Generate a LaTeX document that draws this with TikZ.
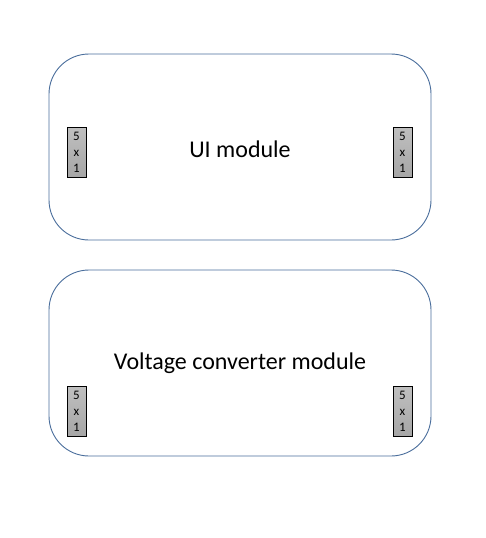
\documentclass[tikz,border=0pt]{standalone}
\usepackage{fontspec}
\setmainfont{Carlito}
\definecolor{modborder}{HTML}{4A6E9C}
\tikzset{
  module/.style={draw=modborder, line width=0.9pt, rounded corners=40pt, fill=white},
  pinhdr/.style={draw=black, line width=0.8pt, top color=gray!50, bottom color=gray!70, minimum width=19pt, minimum height=50pt, inner sep=0pt, align=center, font=\fontsize{13}{16}\selectfont},
  label/.style={font=\fontsize{24}{28}\selectfont}
}
\begin{document}
\begin{tikzpicture}[x=1pt,y=-1pt]
\useasboundingbox (0,0) rectangle (486,538);
\draw[module] (49,54) rectangle (431,240);
\draw[module] (49,270) rectangle (431,456);
\node[label] (ui) at (240,149) {UI module};
\node[label] (vc) at (240,363) {Voltage converter module};
\node[pinhdr] (p1) at (76.5,152) {5\\x\\1};
\node[pinhdr] (p2) at (402.5,152) {5\\x\\1};
\node[pinhdr] (p3) at (76.5,411) {5\\x\\1};
\node[pinhdr] (p4) at (402.5,411) {5\\x\\1};
\end{tikzpicture}
\end{document}
